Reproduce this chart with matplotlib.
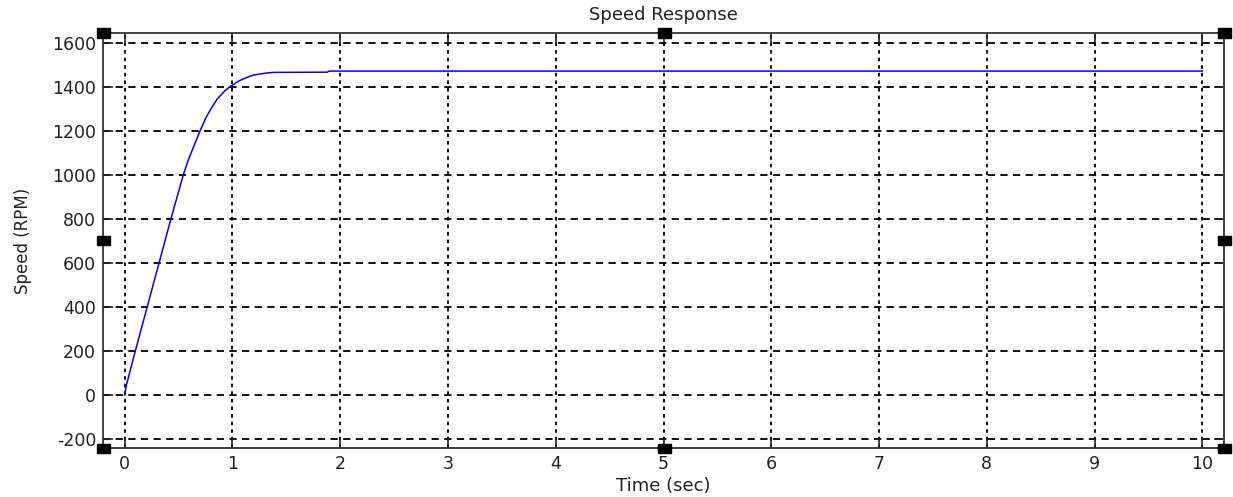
import matplotlib
matplotlib.use("Agg")
import matplotlib.pyplot as plt
from matplotlib.patches import Rectangle

# speed response
t = [0, 0.02, 0.1, 0.21, 0.32, 0.43, 0.545, 0.59, 0.70, 0.76, 0.82, 0.86,
     0.93, 0.975, 1.05, 1.1, 1.16, 1.2, 1.3, 1.38, 1.88, 1.90, 10.0]
speed = [0, 50, 200, 400, 600, 800, 1000, 1066, 1200, 1265, 1315, 1345,
         1382, 1400, 1424, 1436, 1448, 1454, 1462, 1466, 1467, 1472, 1472]

xticks = list(range(0, 11))
yticks = list(range(-200, 1601, 200))

plt.rcParams['font.family'] = ['DejaVu Sans']
plt.rcParams['axes.unicode_minus'] = False

W, H = 1233, 497
fig = plt.figure(figsize=(W / 100, H / 100), dpi=100)
L, R, T, B = 103, 1224, 33, 448
ax = fig.add_axes([L / W, 1 - B / H, (R - L) / W, (B - T) / H])

ax.plot(t, speed, color='#0000ff', lw=1.1)

ax.set_xlim(-0.2, 10.2)
ax.set_ylim(-241, 1645)
ax.set_xticks(xticks)
ax.set_yticks(yticks)

# matlab style grid: dashed rows, dotted columns
for y in yticks:
    ax.axhline(y, color='k', lw=1.3, ls=(0, (4, 3)), zorder=0)
for x in xticks:
    ax.axvline(x, color='k', lw=1.3, ls=(0, (2, 2.2)), zorder=0)

ax.tick_params(direction='in', length=7, width=1.2, top=True, right=True,
               labelsize=12.5, colors='#222222', pad=5)
for s in ax.spines.values():
    s.set_linewidth(1.3)
    s.set_color('#333333')

ax.set_title('Speed Response', fontsize=13, pad=9, color='#222222')
ax.set_xlabel('Time (sec)', fontsize=13, labelpad=3, color='#222222')
ax.set_ylabel('Speed (RPM)', fontsize=12, labelpad=14, color='#222222')

# selection handles around the axes
for hx, hy in [(L, T), ((L + R) / 2, T), (R, T), (L, (T + B) / 2),
               (R, (T + B) / 2), (L, B), ((L + R) / 2, B), (R, B)]:
    fig.patches.append(Rectangle(((hx - 6) / W, 1 - (hy + 4.5) / H), 13 / W, 9 / H,
                                 transform=fig.transFigure, color='k', zorder=10))

fig.savefig('out.png', dpi=100)
